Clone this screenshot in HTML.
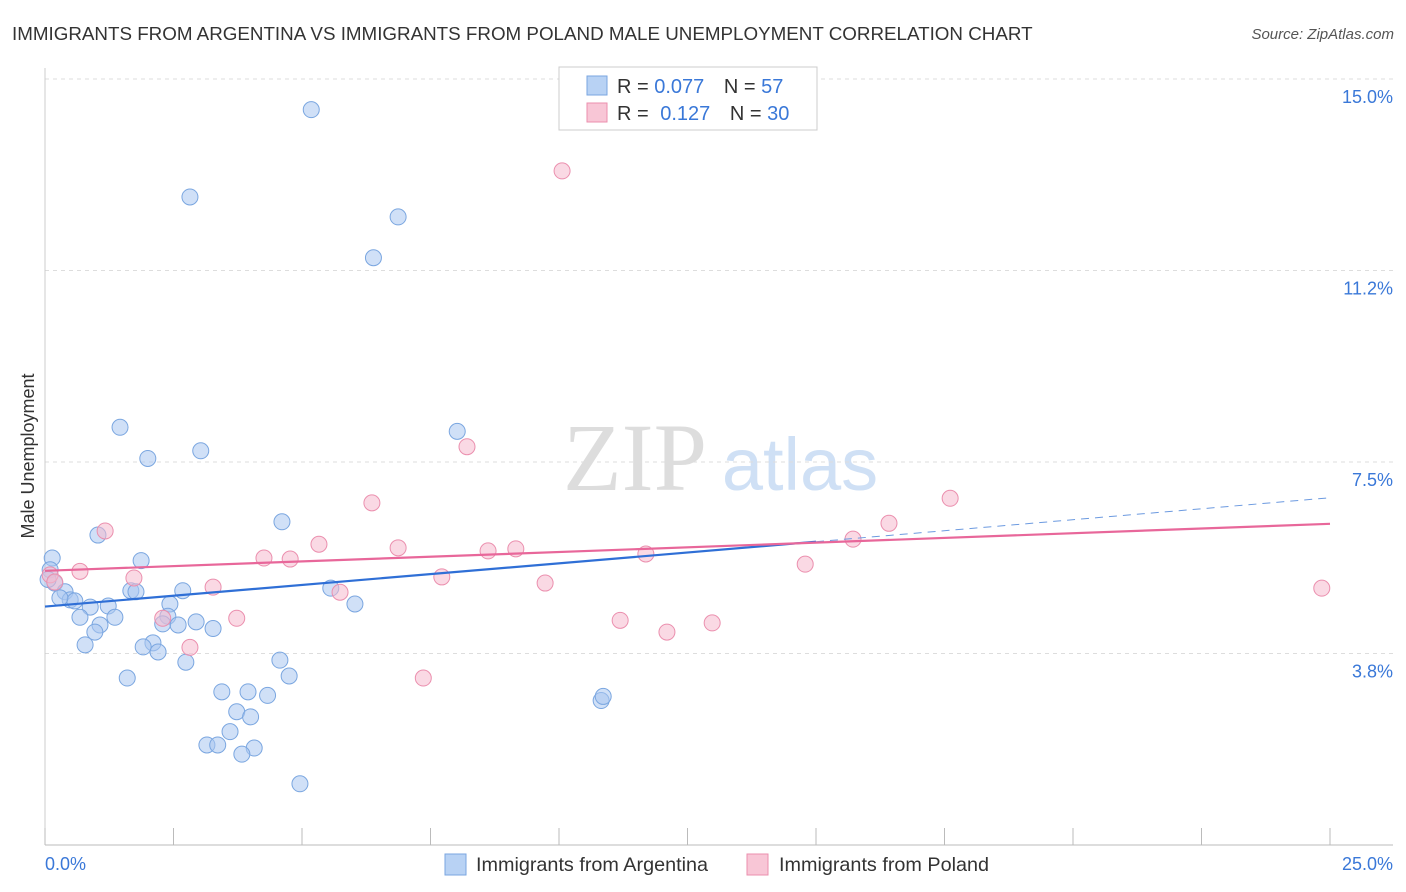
<!DOCTYPE html>
<html><head><meta charset="utf-8"><style>
body{margin:0;background:#fff;font-family:"Liberation Sans",sans-serif;}
svg{display:block}
</style></head><body>
<svg id="c" width="1406" height="892">
<text x="12" y="40" font-size="18.8" fill="#333">IMMIGRANTS FROM ARGENTINA VS IMMIGRANTS FROM POLAND MALE UNEMPLOYMENT CORRELATION CHART</text>
<text x="1394" y="39" font-size="15" fill="#555" font-style="italic" text-anchor="end">Source: ZipAtlas.com</text>
<text x="34" y="456" font-size="18" fill="#333" transform="rotate(-90 34 456)" text-anchor="middle">Male Unemployment</text>
<g><text x="635" y="490" font-size="96" fill="#ddd" font-family="Liberation Serif" text-anchor="middle">ZIP</text><text x="800" y="490" font-size="74" fill="#cfe0f5" text-anchor="middle">atlas</text></g>
<g id="grid"></g><g id="marks"></g>
<g>
<rect x="559" y="67" width="258" height="63" fill="#fff" stroke="#ccc"/>
<rect x="587" y="76" width="20" height="19" fill="#b8d2f4" stroke="#7aa6e0"/>
<rect x="587" y="103" width="20" height="19" fill="#f8c6d6" stroke="#eb8fae"/>
<text x="617" y="93" font-size="20" fill="#333">R = <tspan fill="#3a78d8">0.077</tspan>  <tspan dx="14">N = </tspan><tspan fill="#3a78d8">57</tspan></text>
<text x="617" y="120" font-size="20" fill="#333">R = <tspan fill="#3a78d8" dx="6">0.127</tspan>  <tspan dx="14">N = </tspan><tspan fill="#3a78d8">30</tspan></text>
</g>
<g>
<rect x="445" y="854" width="21" height="21" fill="#b8d2f4" stroke="#7aa6e0"/>
<text x="476" y="871" font-size="19.8" fill="#333">Immigrants from Argentina</text>
<rect x="747" y="854" width="21" height="21" fill="#f8c6d6" stroke="#eb8fae"/>
<text x="779" y="871" font-size="19.8" fill="#333">Immigrants from Poland</text>
</g>
</svg>
<script>
const yTicks=[15.0,11.25,7.5,3.75];
const yTickLabels=["15.0%","11.2%","7.5%","3.8%"];
const xTickLabels=["0.0%","25.0%"];
const argX=[0.14,0.1,0.19,0.39,0.49,0.58,0.29,0.88,0.68,1.23,1.03,1.36,1.07,0.97,0.78,1.46,2.0,1.87,1.67,1.77,2.43,2.39,2.68,2.29,2.59,2.94,3.27,2.1,1.91,2.2,2.74,1.6,2.82,3.03,5.18,6.87,6.39,8.02,4.61,5.56,6.03,4.57,4.75,3.44,3.95,4.33,3.73,4.0,3.6,3.15,3.36,4.07,3.83,4.96,10.82,10.86,0.06];
const argY=[5.62,5.39,5.13,4.96,4.8,4.78,4.84,4.66,4.46,4.68,6.07,4.46,4.31,4.17,3.92,8.18,7.57,5.57,4.98,4.96,4.72,4.48,4.98,4.33,4.31,4.37,4.24,3.96,3.88,3.78,3.58,3.27,12.69,7.72,14.4,12.3,11.5,8.1,6.33,5.03,4.72,3.62,3.31,3.0,3.0,2.93,2.61,2.51,2.22,1.96,1.96,1.9,1.78,1.2,2.83,2.91,5.2];
const polX=[0.1,0.19,0.68,1.17,1.73,3.27,3.73,2.29,2.82,4.26,4.77,5.33,5.74,6.36,6.87,7.36,7.72,8.21,8.62,9.16,9.73,10.06,11.19,11.69,12.1,12.98,14.79,15.72,16.42,17.61,24.84];
const polY=[5.29,5.15,5.36,6.15,5.23,5.05,4.44,4.44,3.87,5.62,5.6,5.89,4.95,6.7,5.82,3.27,5.25,7.8,5.76,5.8,5.13,13.2,4.4,5.7,4.17,4.35,5.5,5.99,6.3,6.79,5.03];
const argLine=[[0,4.67],[15,5.94]], argDash=[[15,5.94],[25,6.8]];
const polLine=[[0,5.37],[25,6.29]];
const X=v=>45+v/25*1285, Y=v=>79+(15-v)*51.07;
const NS="http://www.w3.org/2000/svg";
const g=document.getElementById('grid'), m=document.getElementById('marks');
function el(t,a,p){const e=document.createElementNS(NS,t);for(const k in a)e.setAttribute(k,a[k]);p.appendChild(e);return e;}
yTicks.forEach((v,i)=>{
 const l=el('line',{x1:45,x2:1393,y1:Y(v),y2:Y(v),stroke:'#ddd','stroke-dasharray':'4,4'},g);
 
 
 const t=el('text',{x:1393,y:Y(v)+24,'font-size':18,fill:'#3a78d8','text-anchor':'end'},g);t.textContent=yTickLabels[i];
 
 
});
const ax=el('line',{x1:45,x2:1393,y1:845,y2:845,stroke:'#bbb'},g);


const ay=el('line',{x1:45,x2:45,y1:68,y2:845,stroke:'#ccc'},g);


for(let i=0;i<=10;i++){const t=el('line',{x1:X(i*2.5),x2:X(i*2.5),y1:828,y2:845,stroke:'#bbb'},g);
 
 }
[[xTickLabels[0],45,'start'],[xTickLabels[1],1393,'end']].forEach(d=>{const t=el('text',{x:d[1],y:870,'font-size':18,fill:'#3a78d8','text-anchor':d[2]},g);t.textContent=d[0];
 
 });
function pts(xs,ys,f,s,n){xs.forEach((x,i)=>{const c=el('circle',{cx:X(x),cy:Y(ys[i]),r:8,fill:f,'fill-opacity':0.55,stroke:s,'stroke-width':1},m);
 
 });}
pts(argX,argY,'#a9c7f0','#7aa6e0','point-argentina');
pts(polX,polY,'#f6b9cd','#eb8fae','point-poland');
function ln(p,c,d,n){const l=el('line',{x1:X(p[0][0]),y1:Y(p[0][1]),x2:X(p[1][0]),y2:Y(p[1][1]),stroke:c,'stroke-width':d?1:2.2},m);if(d)l.setAttribute('stroke-dasharray','8,6');
 
 }
ln(argLine,'#2f6fd6',0,'trend-argentina');
ln(argDash,'#6c9ae0',1,'trend-argentina-extension');
ln(polLine,'#e8679a',0,'trend-poland');
</script>
</body></html>
